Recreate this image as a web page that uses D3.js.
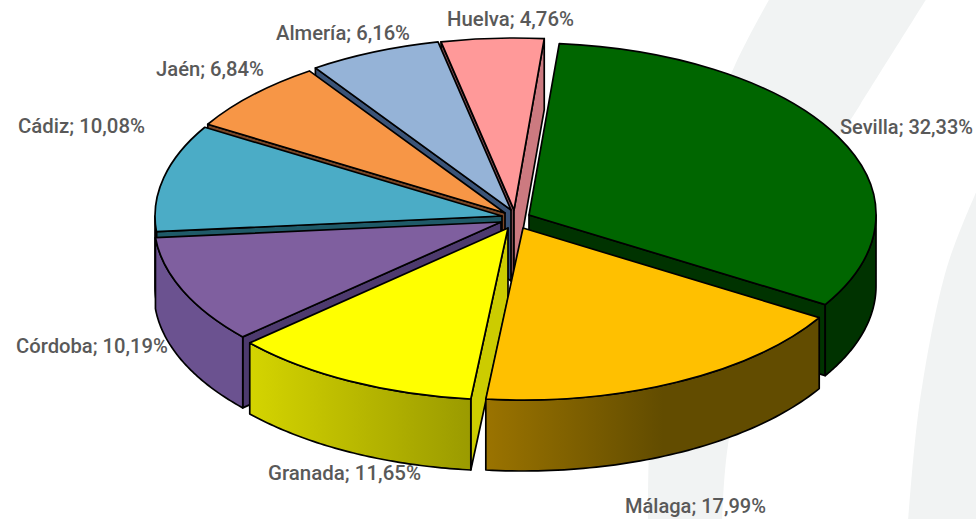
<!DOCTYPE html>
<html><head><meta charset="utf-8">
<script src="https://cdn.jsdelivr.net/npm/d3@7/dist/d3.min.js"></script>
<style>html,body{margin:0;padding:0;background:#fff}svg{display:block}</style>
</head><body><svg id="c" width="976" height="519"></svg>
<script>
// data
const categories = ["Sevilla","Málaga","Granada","Córdoba","Cádiz","Jaén","Almería","Huelva"];
const shares = [32.33,17.99,11.65,10.19,10.08,6.84,6.16,4.76];
const shareLabels = ["32,33%","17,99%","11,65%","10,19%","10,08%","6,84%","6,16%","4,76%"];

// styles
const topColors = ["#006600","#ffc000","#ffff00","#7f5f9f","#4bacc6","#f79646","#95b3d7","#ff9999"];
const startWall = ["#003300","#665000","#cccc00","#4d3a6e","#1f5a68","#7a4726","#3b5478","#7d4a50"];
const endWall   = ["#003300","#665000","#cccc00","#4d3a6e","#1f5a68","#7a4726","#3b5478","#cc7a80"];
const outerWallFrom = ["#003300","#9a7300","#d4d400","#6b5290","#2f7488","#000","#000","#000"];
const outerWallTo   = ["#003300","#624c00","#9a9a00","#6b5290","#2f7488","#000","#000","#000"];

// layout
const W = 976, H = 519, cx = 511, cy = 221, rx = 347, ry = 172, depth = 71;
const shiftX = [18,12,-3,-10,-9,-6,0,3];
const shiftY = [-6,7,7,1,-5,-8,-11,-11];
const labelX = [840,625,268,16,18,156,276,447];
const labelY = [134,513,480,353,133,76,40,26];
const labelW = [133,141,153,152,127,108,134,127];
const drawOrder = [7,6,0,5,4,3,2,1];

const svg = d3.select("#c");
const defs = svg.append("defs");

// faint background swooshes
const bg = svg.append("g").attr("fill","#f1f3f3");
const curve = d3.line().curve(d3.curveCatmullRom);
bg.append("path").attr("d",
  curve([[770,-2],[735,65],[690,180],[665,300],[650,430],[648,521]]) +
  "L722,521" +
  curve([[722,521],[728,445],[760,310],[810,185],[860,105],[927,-2]]).replace(/^M/,"L") + "Z");
bg.append("path").attr("d",
  curve([[978,188],[947,267],[920,400],[908,521]]) + "L978,521Z");

const pie = d3.pie().sort(null).value(d=>d)
  .startAngle(5*Math.PI/180).endAngle(365*Math.PI/180);
const arcs = pie(shares);
const arc = d3.arc().innerRadius(0).outerRadius(rx);
const sx = d3.scaleLinear().domain([-1,1]).range([-rx,rx]);
const sy = d3.scaleLinear().domain([-1,1]).range([-ry,ry]);
const px = a => sx(Math.sin(a));
const py = a => sy(-Math.cos(a));

const chart = svg.append("g").attr("stroke","#000").attr("stroke-width",1.7).attr("stroke-linejoin","round");

drawOrder.forEach(i=>{
  const d = arcs[i];
  const g = chart.append("g").attr("transform",`translate(${cx+shiftX[i]},${cy+shiftY[i]})`);
  const wall = (a,fill)=>{
    g.append("path").attr("fill",fill).attr("d",
      d3.line()([[0,0],[px(a),py(a)],[px(a),py(a)+depth],[0,depth]])+"Z");
  };
  if(Math.sin(d.startAngle)<0) wall(d.startAngle,startWall[i]);
  if(Math.sin(d.endAngle)>0) wall(d.endAngle,endWall[i]);
  // outer rim wall: only the front half of the ellipse faces the viewer
  const a0 = Math.max(d.startAngle,Math.PI/2), a1 = Math.min(d.endAngle,3*Math.PI/2);
  if(a1>a0){
    const id = "grad"+i;
    const grad = defs.append("linearGradient").attr("id",id).attr("gradientUnits","userSpaceOnUse")
      .attr("x1",i===1?-35:i===2?-257:0).attr("x2",i===1?140:i===2?-35:1).attr("y1",0).attr("y2",0);
    grad.append("stop").attr("offset",0).attr("stop-color",outerWallFrom[i]);
    grad.append("stop").attr("offset",1).attr("stop-color",outerWallTo[i]);
    const angs = d3.range(0,61).map(k=>a0+(a1-a0)*k/60);
    const pts = angs.map(a=>[px(a),py(a)]).concat(angs.slice().reverse().map(a=>[px(a),py(a)+depth]));
    g.append("path").attr("fill",`url(#${id})`).attr("d",d3.line()(pts)+"Z");
  }
  g.append("path").attr("fill",topColors[i])
    .attr("vector-effect","non-scaling-stroke")
    .attr("transform",`scale(1,${ry/rx})`)
    .attr("d",arc(d));
});

svg.append("g").selectAll("text").data(categories).join("text")
  .attr("x",(d,i)=>labelX[i]).attr("y",(d,i)=>labelY[i])
  .attr("font-family","Roboto,'Liberation Sans',sans-serif")
  .attr("font-weight",500).attr("font-size",20).attr("fill","#595959")
  .attr("textLength",(d,i)=>labelW[i]).attr("lengthAdjust","spacingAndGlyphs")
  .text((d,i)=>`${d}; ${shareLabels[i]}`);
</script></body></html>
